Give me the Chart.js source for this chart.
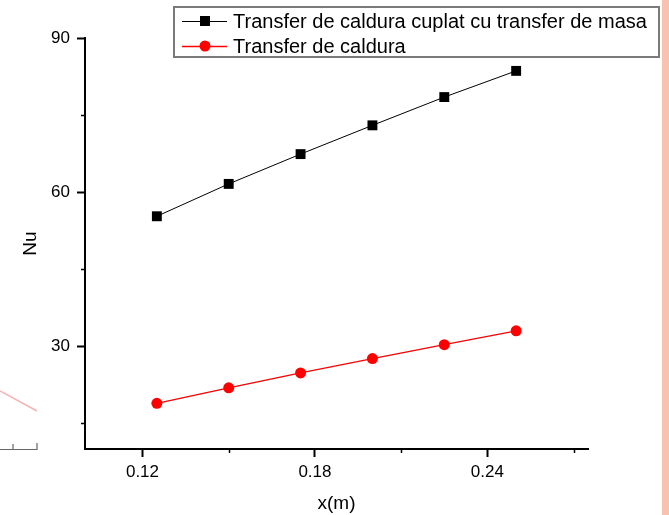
<!DOCTYPE html>
<html>
<head>
<meta charset="utf-8">
<script src="https://cdn.jsdelivr.net/npm/chart.js@4"></script>
<style>
  html, body { margin: 0; padding: 0; background: #fff; }
  #wrap { position: relative; width: 669px; height: 515px; overflow: hidden; }
  #strip { position: absolute; left: 662px; top: 0; width: 7px; height: 515px; background: #f7c3ae; }
  #deco { position: absolute; left: 0; top: 0; }
  canvas { position: absolute; left: 0; top: 0; }
</style>
</head>
<body>
<div id="wrap">
  <canvas id="c" width="669" height="515"></canvas>
  <svg id="deco" width="60" height="515">
    <line x1="0" y1="391" x2="37" y2="411" stroke="#f2a6a6" stroke-width="1.5" opacity="0.85"/>
    <polyline points="0,449.5 37,449.5 37,443" fill="none" stroke="#666" stroke-width="1.2"/>
    <line x1="13" y1="449.5" x2="13" y2="444" stroke="#666" stroke-width="1.2"/>
  </svg>
  <div id="strip"></div>
</div>
<script>
// ---- data ----
const xValues = [0.125, 0.15, 0.175, 0.2, 0.225, 0.25];
const nuCoupled = [55.3, 61.6, 67.4, 73.0, 78.5, 83.6];
const nuHeat = [18.9, 21.9, 24.8, 27.6, 30.3, 33.0];
const seriesLabels = ['Transfer de caldura cuplat cu transfer de masa', 'Transfer de caldura'];
const xTicks = [0.12, 0.15, 0.18, 0.21, 0.24, 0.27];
const xMajor = [0.12, 0.18, 0.24];
const yTicks = [15, 30, 45, 60, 75, 90];
const yMajor = [30, 60, 90];
const xTitle = 'x(m)';
const yTitle = 'Nu';

const FONT = "'Liberation Sans', Arial, sans-serif";
const isIn = (arr, v) => arr.some(a => Math.abs(a - v) < 1e-9);

const minorTicks = {
  id: 'minorTicks',
  afterDraw(chart) {
    const ctx = chart.ctx;
    ctx.save();
    ctx.strokeStyle = '#000';
    ctx.lineWidth = 1.5;
    const xs = chart.scales.x, ys = chart.scales.y;
    xTicks.filter(v => !isIn(xMajor, v)).forEach(v => {
      const px = Math.round(xs.getPixelForValue(v)) + 0.5;
      ctx.beginPath(); ctx.moveTo(px, xs.top); ctx.lineTo(px, xs.top + 4); ctx.stroke();
    });
    yTicks.filter(v => !isIn(yMajor, v)).forEach(v => {
      const py = Math.round(ys.getPixelForValue(v)) + 0.5;
      ctx.beginPath(); ctx.moveTo(ys.right, py); ctx.lineTo(ys.right - 4, py); ctx.stroke();
    });
    ctx.restore();
  }
};

const boxLegend = {
  id: 'boxLegend',
  afterDraw(chart) {
    const ctx = chart.ctx;
    const L = 174, T = 7, R = 659, B = 57;
    ctx.save();
    ctx.fillStyle = '#fff';
    ctx.fillRect(L, T, R - L, B - T);
    ctx.strokeStyle = '#7a7a7a';
    ctx.lineWidth = 2;
    ctx.strokeRect(L, T, R - L, B - T);
    chart.data.datasets.forEach((ds, i) => {
      const cy = 21 + i * 25;
      ctx.strokeStyle = ds.borderColor;
      ctx.lineWidth = ds.borderWidth;
      ctx.beginPath(); ctx.moveTo(182, cy + 0.5); ctx.lineTo(227, cy + 0.5); ctx.stroke();
      ctx.fillStyle = ds.pointBackgroundColor;
      if (ds.pointStyle === 'rect') {
        ctx.fillRect(200, cy - 5, 10, 10);
      } else {
        ctx.beginPath(); ctx.arc(205, cy, 5.5, 0, Math.PI * 2); ctx.fill();
      }
      ctx.fillStyle = '#000';
      ctx.font = '20px ' + FONT;
      ctx.textBaseline = 'middle';
      ctx.textAlign = 'left';
      ctx.fillText(ds.label, 233, cy + 1);
    });
    ctx.restore();
  }
};

new Chart(document.getElementById('c'), {
  type: 'line',
  data: {
    datasets: [
      {
        label: seriesLabels[0],
        data: xValues.map((x, i) => ({ x: x, y: nuCoupled[i] })),
        borderColor: '#000', backgroundColor: '#000',
        pointBackgroundColor: '#000', pointBorderColor: '#000',
        borderWidth: 1, pointStyle: 'rect', pointRadius: 7, pointBorderWidth: 0
      },
      {
        label: seriesLabels[1],
        data: xValues.map((x, i) => ({ x: x, y: nuHeat[i] })),
        borderColor: '#ff0000', backgroundColor: '#ff0000',
        pointBackgroundColor: '#ff0000', pointBorderColor: '#ff0000',
        borderWidth: 1.3, pointStyle: 'circle', pointRadius: 5.5, pointBorderWidth: 0
      }
    ]
  },
  options: {
    responsive: false,
    animation: false,
    layout: { padding: { left: 0, top: 38, right: 81, bottom: 0 } },
    plugins: { legend: { display: false }, tooltip: { enabled: false } },
    scales: {
      x: {
        type: 'linear', min: 0.10, max: 0.275,
        afterBuildTicks: s => { s.ticks = xTicks.map(v => ({ value: v })); },
        afterFit: s => { s.height = 66; },
        grid: {
          drawOnChartArea: false, drawTicks: true, tickLength: 8, tickWidth: 2,
          tickColor: c => (c.tick && isIn(xMajor, c.tick.value)) ? '#000' : 'rgba(0,0,0,0)'
        },
        border: { display: true, color: '#000', width: 2 },
        ticks: {
          color: '#000', font: { family: FONT, size: 17 }, padding: 5, maxRotation: 0, autoSkip: false,
          callback: v => isIn(xMajor, v) ? v.toFixed(2) : ''
        },
        title: { display: true, text: xTitle, color: '#000', font: { family: FONT, size: 19 }, padding: { top: 0, bottom: 0 } }
      },
      y: {
        type: 'linear', min: 10, max: 90,
        afterBuildTicks: s => { s.ticks = yTicks.map(v => ({ value: v })); },
        afterFit: s => { s.width = 85; },
        grid: {
          drawOnChartArea: false, drawTicks: true, tickLength: 8, tickWidth: 2,
          tickColor: c => (c.tick && isIn(yMajor, c.tick.value)) ? '#000' : 'rgba(0,0,0,0)'
        },
        border: { display: true, color: '#000', width: 2 },
        ticks: {
          color: '#000', font: { family: FONT, size: 17 }, padding: 7, autoSkip: false,
          callback: v => isIn(yMajor, v) ? String(v) : ''
        },
        title: { display: true, text: yTitle, color: '#000', font: { family: FONT, size: 19 }, padding: { top: 19, bottom: 0 } }
      }
    }
  },
  plugins: [minorTicks, boxLegend]
});
</script>
</body>
</html>
